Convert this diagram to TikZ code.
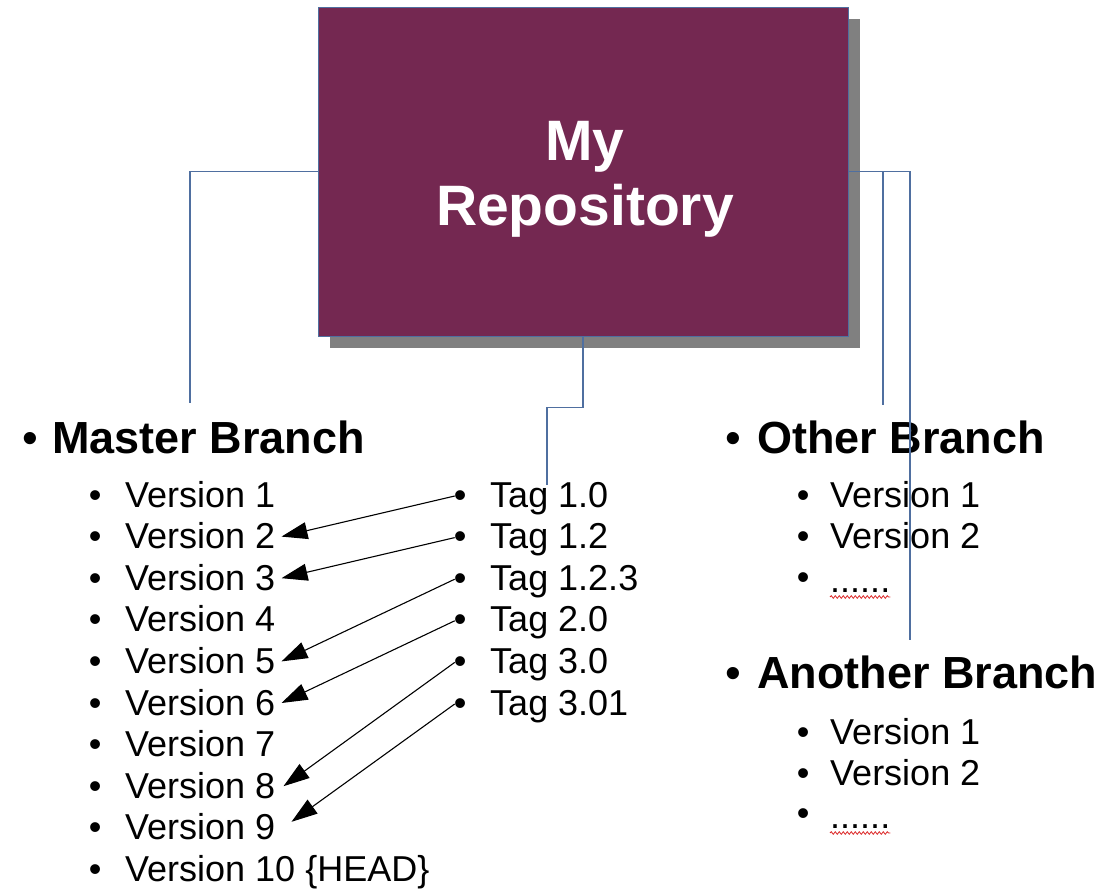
\documentclass[tikz,border=0pt]{standalone}
\usepackage{fontspec}
\setmainfont{Liberation Sans}
\usetikzlibrary{arrows.meta,backgrounds,decorations.pathmorphing,calc}
\definecolor{repofill}{RGB}{116,40,81}
\definecolor{conn}{RGB}{79,111,160}
\definecolor{shadowgray}{RGB}{128,128,128}
\definecolor{spellred}{RGB}{220,40,40}
\tikzset{
  head/.style={anchor=base west, inner sep=0pt, font=\fontsize{45}{54}\selectfont\bfseries},
  item/.style={anchor=base west, inner sep=0pt, font=\fontsize{36}{43}\selectfont},
  hbul/.style={anchor=base west, inner sep=0pt, font=\fontsize{45}{54}\selectfont},
  sbul/.style={anchor=base west, inner sep=0pt, font=\fontsize{36}{43}\selectfont},
  connector/.style={draw=conn, line width=1.2pt},
  tagarrow/.style={draw=black, line width=1.1pt, -{Triangle[length=26pt,width=17pt]}},
  spell/.style={draw=spellred, line width=0.8pt, decorate, decoration={snake, amplitude=1.3pt, segment length=4pt}},
  repobox/.style={draw=conn, line width=0.8pt, fill=repofill, minimum width=530pt, minimum height=329pt, inner sep=0pt},
  repotext/.style={text=white, align=center, inner sep=0pt, font=\fontsize{57}{65}\selectfont\bfseries}
}
\begin{document}
\begin{tikzpicture}[x=1pt, y=-1pt]
\useasboundingbox (0,0) rectangle (1103,891);

% repository box with shadow
\node[repobox] (repo) at (583,171.5) {};
\begin{scope}[on background layer]
  \fill[shadowgray] ($(repo.south west)+(12,12)$) rectangle ($(repo.north east)+(12,12)$);
\end{scope}
\node[repotext] (repolabel) at ($(repo.center)+(2,7.5)$) {My\\Repository};

% Master branch
\node[hbul] (mb) at (22,453) {•};
\node[head] (master) at (52,453) {Master Branch};
\foreach \i/\t in {1/Version 1,2/Version 2,3/Version 3,4/Version 4,5/Version 5,6/Version 6,7/Version 7,8/Version 8,9/Version 9,10/{Version 10 \{HEAD\}}}{
  \node[sbul] (vb\i) at (88.7,{507+41.6*(\i-1)}) {•};
  \node[item] (v\i) at (125,{507+41.6*(\i-1)}) {\t};
}

% Tags
\foreach \i/\t in {1/Tag 1.0,2/Tag 1.2,3/Tag 1.2.3,4/Tag 2.0,5/Tag 3.0,6/Tag 3.01}{
  \node[sbul] (tb\i) at (453.7,{507+41.6*(\i-1)}) {•};
  \node[item] (t\i) at (490,{507+41.6*(\i-1)}) {\t};
}

% Other branch
\node[hbul] (ob) at (725,453) {•};
\node[head] (other) at (757,453) {Other Branch};
\node[sbul] (ob1) at (796.7,507) {•};
\node[item] (o1) at (830,507) {Version 1};
\node[sbul] (ob2) at (796.7,548) {•};
\node[item] (o2) at (830,548) {Version 2};
\node[sbul] (ob3) at (796.7,589) {•};
\node[item] (o3) at (830,592) {......};
\draw[spell] ($(o3.base west)+(0,5)$) -- ($(o3.base east)+(0,5)$);

% Another branch
\node[hbul] (ab) at (725,688) {•};
\node[head] (another) at (757,688) {Another Branch};
\node[sbul] (ab1) at (796.7,744) {•};
\node[item] (a1) at (830,744) {Version 1};
\node[sbul] (ab2) at (796.7,785) {•};
\node[item] (a2) at (830,785) {Version 2};
\node[sbul] (ab3) at (796.7,825) {•};
\node[item] (a3) at (830,828) {......};
\draw[spell] ($(a3.base west)+(0,5)$) -- ($(a3.base east)+(0,5)$);

% connector ends
\coordinate (mtop) at (190,403);
\coordinate (ttop) at (547,485);
\coordinate (otop) at (883,405);
\coordinate (atop) at (910,640);

\draw[connector] (repo.west) -| (mtop);
\draw[connector] (repo.south) -- ++(0,71) -| (ttop);
\draw[connector] (repo.east) -| (atop);
\draw[connector] (repo.east -| otop) -- (otop);

% tag arrows
\draw[tagarrow] ($(tb1.base west)+(1,-11)$) -- ($(v2.base east)+(6,-12)$);
\draw[tagarrow] ($(tb2.base west)+(1,-11)$) -- ($(v3.base east)+(6,-12)$);
\draw[tagarrow] ($(tb3.base west)+(1,-11)$) -- ($(v5.base east)+(6,-12)$);
\draw[tagarrow] ($(tb4.base west)+(1,-11)$) -- ($(v6.base east)+(6,-12)$);
\draw[tagarrow] ($(tb5.base west)+(1,-11)$) -- ($(v8.base east)+(8,-12)$);
\draw[tagarrow] ($(tb6.base west)+(1,-11)$) -- ($(v9.base east)+(16,-18)$);
\end{tikzpicture}
\end{document}
